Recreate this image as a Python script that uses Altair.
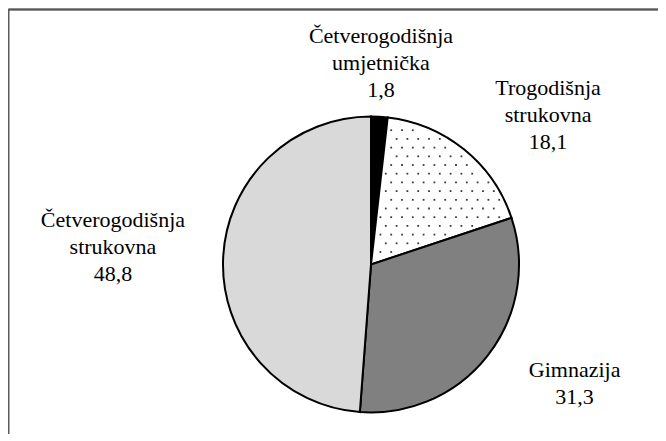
import altair as alt
import pandas as pd
import numpy as np

# ---- data ----
categories = ["Četverogodišnja umjetnička", "Trogodišnja strukovna", "Gimnazija", "Četverogodišnja strukovna"]
label_lines = [["Četverogodišnja", "umjetnička"], ["Trogodišnja", "strukovna"], ["Gimnazija"], ["Četverogodišnja", "strukovna"]]
values = [1.8, 18.1, 31.3, 48.8]

# ---- style / layout ----
colors = ["#000000", "#ffffff", "#808080", "#d9d9d9"]
W, H = 649, 425
CX, CY, R = 362.0, 255.5, 148.0
label_radius = [221.7, 245.1, 232.4, 260.8]
label_nudge_deg = [-0.66, 7.18, -9.15, 6.17]
FONT = "Liberation Serif"

total = sum(values)
cum = np.cumsum(values)
mid = cum - np.array(values) / 2
ang = np.radians(mid / total * 360 + np.array(label_nudge_deg))

def fmt(v):
    return f"{v:.1f}".replace(".", ",")

df = pd.DataFrame({
    "cat": categories,
    "value": values,
    "order": list(range(len(values))),
    "label": ["\n".join(l + [fmt(v)]) for l, v in zip(label_lines, values)],
    "lx": CX + np.array(label_radius) * np.sin(ang),
    "ly": CY - np.array(label_radius) * np.cos(ang),
})

pie = alt.Chart(df).mark_arc(outerRadius=R, stroke="black", strokeWidth=2).encode(
    theta=alt.Theta("value:Q", stack=True),
    order=alt.Order("order:Q"),
    color=alt.Color("cat:N", scale=alt.Scale(domain=categories, range=colors), legend=None),
    x=alt.value(CX),
    y=alt.value(CY),
)

# dotted texture for the "Trogodišnja strukovna" slice, bounded by its data angles
a0 = float(cum[0] / total * 360)
a1 = float(cum[1] / total * 360)
SX, SY = 10.8, 8.7
dots = alt.Chart(pd.DataFrame({"k": [0]})).transform_calculate(
    i="sequence(0, 16)"
).transform_flatten(["i"]).transform_calculate(
    j="sequence(0, 20)"
).transform_flatten(["j"]).transform_calculate(
    px=f"{CX} + 4 + datum.i * {SX} + (datum.j % 2) * {SX/2}",
    py=f"{CY - R} + 5 + datum.j * {SY}",
).transform_calculate(
    dx=f"datum.px - {CX}", dy=f"{CY} - datum.py"
).transform_calculate(
    dist="sqrt(datum.dx*datum.dx + datum.dy*datum.dy)",
    a="atan2(datum.dx, datum.dy)",
).transform_filter(
    f"datum.dist < {R} - 4 && datum.dist * sin(datum.a - {np.radians(a0)}) > 3 && datum.dist * sin({np.radians(a1)} - datum.a) > 3 && datum.a > 0"
).mark_square(size=3.2, color="#3a3a3a", opacity=1).encode(
    x=alt.X("px:Q", scale=None, axis=None),
    y=alt.Y("py:Q", scale=None, axis=None),
)

labels = alt.Chart(df).mark_text(
    font=FONT, fontSize=22, lineHeight=27, lineBreak="\n",
    align="center", baseline="alphabetic", color="black",
).encode(
    x=alt.X("lx:Q", scale=None, axis=None),
    y=alt.Y("ly:Q", scale=None, axis=None),
    text="label:N",
)

frame_top = alt.Chart(df).mark_rule(color="#5a5a5a", strokeWidth=1.3).encode(
    x=alt.value(-0.5), x2=alt.value(W), y=alt.value(0.5)
)
frame_left = alt.Chart(df).mark_rule(color="#5a5a5a", strokeWidth=1.3).encode(
    x=alt.value(-0.5), y=alt.value(0), y2=alt.value(H)
)

chart = alt.layer(pie, dots, labels, frame_top, frame_left).properties(
    width=W, height=H,
    padding={"left": 1, "top": 1, "right": 0, "bottom": 0},
    autosize=alt.AutoSizeParams(type="none"),
    background="white",
).configure_view(stroke=None)

chart.save("out.html", embed_options={"renderer": "svg", "actions": False})
